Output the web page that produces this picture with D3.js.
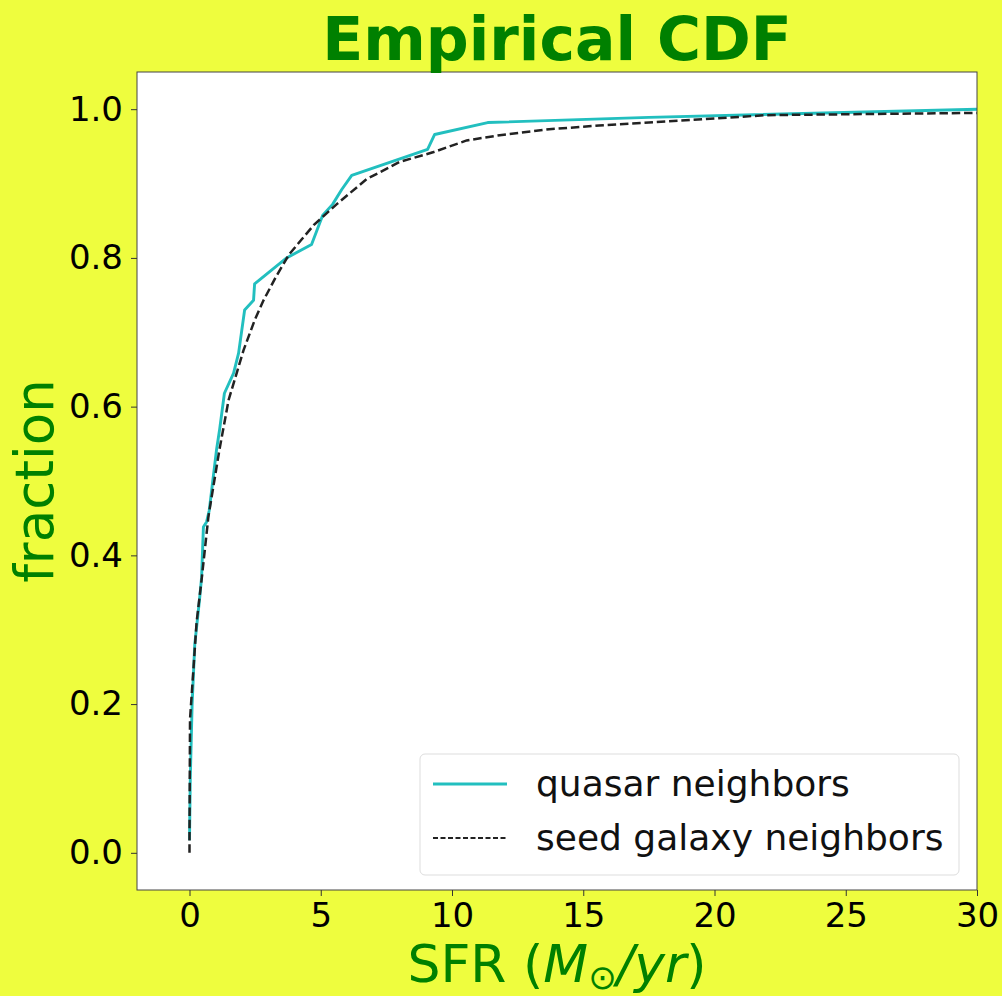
<!DOCTYPE html>
<html>
<head>
<meta charset="utf-8">
<script src="https://cdn.jsdelivr.net/npm/d3@7"></script>
<style>
  body { margin: 0; background: #eefd3e; }
  text { font-family: "DejaVu Sans", sans-serif; }
</style>
</head>
<body>
<script>
// quasar neighbors (solid cyan)
const quasarSFR  = [0, 0.03, 0.1, 0.2, 0.38, 0.46, 0.53, 0.65, 0.75, 1.03, 1.15, 1.33, 1.68, 1.87, 2.1, 2.44, 2.48, 3.7, 4.65, 5.07, 5.45, 5.8, 6.18, 9.07, 9.34, 11.36, 17.5, 30];
const quasarFrac = [0.017, 0.10, 0.20, 0.28, 0.34, 0.37, 0.438, 0.445, 0.46, 0.542, 0.57, 0.618, 0.645, 0.672, 0.73, 0.743, 0.765, 0.80, 0.818, 0.857, 0.872, 0.892, 0.911, 0.946, 0.966, 0.982, 0.989, 1.0];

// seed galaxy neighbors (dashed black)
const seedSFR  = [0, 0.0, 0.02, 0.14, 0.27, 0.46, 0.72, 1.14, 1.49, 2.06, 2.48, 2.82, 3.3, 3.8, 4.73, 5.6, 6.75, 8.0, 9.27, 10.56, 11.82, 13.7, 15.6, 17.5, 22, 30];
const seedFrac = [0, 0.02, 0.18, 0.242, 0.31, 0.367, 0.452, 0.542, 0.609, 0.676, 0.716, 0.743, 0.775, 0.805, 0.844, 0.872, 0.906, 0.929, 0.942, 0.958, 0.965, 0.973, 0.978, 0.982, 0.992, 0.995];

const xTicks = [0, 5, 10, 15, 20, 25, 30];
const yTicks = [0.0, 0.2, 0.4, 0.6, 0.8, 1.0];
const legendLabels = ["quasar neighbors", "seed galaxy neighbors"];

const W = 1002, H = 996;
const m = { left: 137, right: 977, top: 72, bottom: 890 };

const svg = d3.select("body").append("svg")
  .attr("width", W)
  .attr("height", H);

const x = d3.scaleLinear().domain([-2, 30]).range([m.left, m.right]);
const y = d3.scaleLinear().domain([-0.05, 1.05]).range([m.bottom, m.top]);

svg.append("rect")
  .attr("x", m.left).attr("y", m.top)
  .attr("width", m.right - m.left).attr("height", m.bottom - m.top)
  .attr("fill", "#fff");

const line = d3.line()
  .x(d => x(d[0]))
  .y(d => y(d[1]));

const quasar = quasarSFR.map((v, i) => [v, quasarFrac[i]]);
const seed = seedSFR.map((v, i) => [v, seedFrac[i]]);

const plot = svg.append("g");
plot.append("path").datum(quasar)
  .attr("d", line)
  .attr("fill", "none")
  .attr("stroke", "#22bfbf")
  .attr("stroke-width", 2.9)
  .attr("stroke-linejoin", "round");

plot.append("path").datum(seed)
  .attr("d", line)
  .attr("fill", "none")
  .attr("stroke", "#222")
  .attr("stroke-width", 2.5)
  .attr("stroke-dasharray", "8.5,3.8");

// frame
svg.append("rect")
  .attr("x", m.left).attr("y", m.top)
  .attr("width", m.right - m.left).attr("height", m.bottom - m.top)
  .attr("fill", "none")
  .attr("stroke", "#444")
  .attr("stroke-width", 1);

// axes
const xAxis = svg.append("g")
  .attr("transform", `translate(0, ${m.bottom})`)
  .call(d3.axisBottom(x).tickValues(xTicks).tickSize(6).tickPadding(7).tickFormat(d3.format("d")));
const yAxis = svg.append("g")
  .attr("transform", `translate(${m.left}, 0)`)
  .call(d3.axisLeft(y).tickValues(yTicks).tickSize(6).tickPadding(8).tickFormat(d3.format(".1f")));

[xAxis, yAxis].forEach(ax => {
  ax.select(".domain").remove();
  ax.selectAll(".tick line").attr("stroke", "#333");
  ax.selectAll(".tick text")
    .attr("font-family", "DejaVu Sans")
    .attr("font-size", 34)
    .attr("fill", "#000");
});

// title
svg.append("text")
  .attr("x", (m.left + m.right) / 2)
  .attr("y", 60)
  .attr("text-anchor", "middle")
  .attr("font-size", 60)
  .attr("font-weight", "bold")
  .attr("fill", "#008000")
  .text("Empirical CDF");

// y label
svg.append("text")
  .attr("transform", `translate(53, ${(m.top + m.bottom) / 2}) rotate(-90)`)
  .attr("text-anchor", "middle")
  .attr("font-size", 53)
  .attr("fill", "#008000")
  .text("fraction");

// x label
const xl = svg.append("text")
  .attr("x", (m.left + m.right) / 2)
  .attr("y", 982)
  .attr("text-anchor", "middle")
  .attr("font-size", 52)
  .attr("fill", "#008000");
xl.append("tspan").text("SFR (");
xl.append("tspan").attr("font-style", "italic").text("M");
xl.append("tspan").attr("font-size", 34).attr("dy", 7).text("\u2299");
xl.append("tspan").attr("dy", -7).attr("font-style", "italic").text("/yr");
xl.append("tspan").text(")");

// legend
const lg = svg.append("g");
lg.append("rect")
  .attr("x", 420).attr("y", 754)
  .attr("width", 539).attr("height", 121)
  .attr("rx", 5)
  .attr("fill", "#fff")
  .attr("stroke", "#ddd")
  .attr("stroke-width", 1);

const styles = [
  { stroke: "#22bfbf", width: 2.9, dash: null },
  { stroke: "#222", width: 1.8, dash: "5,2.5" }
];
legendLabels.forEach((lab, i) => {
  const ly = 784 + i * 54;
  lg.append("line")
    .attr("x1", 433).attr("x2", 507)
    .attr("y1", ly).attr("y2", ly)
    .attr("stroke", styles[i].stroke)
    .attr("stroke-width", styles[i].width)
    .attr("stroke-dasharray", styles[i].dash);
  lg.append("text")
    .attr("x", 536)
    .attr("y", ly + 12)
    .attr("font-size", 36)
    .attr("fill", "#111")
    .text(lab);
});
</script>
</body>
</html>
